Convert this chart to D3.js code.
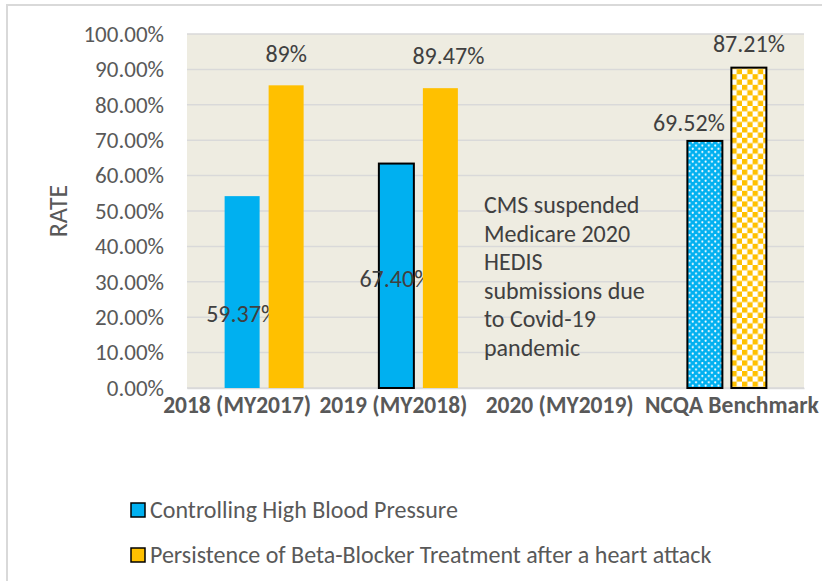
<!DOCTYPE html>
<html lang="en">
<head>
<meta charset="UTF-8">
<title>HEDIS rates</title>
<script src="https://cdn.jsdelivr.net/npm/d3@7/dist/d3.min.js"></script>
<style>
    body { margin: 0; background: #FFFFFF; }
    svg { display: block; font-family: Carlito, Calibri, Lato, sans-serif; }
    .tick-label { font-size: 23px; fill: #595959; }
    .axis-title { font-size: 26px; fill: #595959; }
    .cat-label { font-size: 23.5px; font-weight: 700; fill: #595959; }
    .data-label { font-size: 24px; fill: #404040; }
    .note { font-size: 24px; fill: #404040; }
    .legend-label { font-size: 24px; fill: #595959; }
</style>
</head>
<body>
<div id="chart"></div>
<script>
// Data
const categories = ["2018 (MY2017)", "2019 (MY2018)", "2020 (MY2019)", "NCQA Benchmark"];
const seriesNames = ["Controlling High Blood Pressure", "Persistence of Beta-Blocker Treatment after a heart attack"];
const bloodPressure = [54.2, 63.4, null, 69.8];
const betaBlocker = [85.5, 84.7, null, 90.5];
const bloodPressureLabels = ["59.37%", "67.40%", null, "69.52%"];
const betaBlockerLabels = ["89%", "89.47%", null, "87.21%"];
const yTicks = [0, 10, 20, 30, 40, 50, 60, 70, 80, 90, 100];
const noteLines = ["CMS suspended", "Medicare 2020", "HEDIS", "submissions due", "to Covid-19", "pandemic"];

// Where the hand-placed labels sit (value units) and their sideways shift
const bloodPressureLabelAt = [21.1, 31, null, 75];
const betaBlockerLabelAt = [94.5, 94, null, 97.4];
const bloodPressureLabelDx = [0, -1, null, -16];
const betaBlockerLabelDx = [0, 8, null, 0];
// category labels are nudged so the long ones do not collide
const categoryLabelDx = [-27, -25, -13, 5];
// which bars get a black outline, and which are patterned
const bloodPressureOutline = [false, true, false, true];
const betaBlockerOutline = [false, false, false, true];
const patterned = [false, false, false, true];

const width = 822, height = 581;
const plot = { left: 187, right: 804, top: 34, bottom: 388 };
const blue = "#00B0F0", orange = "#FFC000";

const svg = d3.select("#chart").append("svg")
    .attr("width", width)
    .attr("height", height);

const defs = svg.append("defs");
const dots = defs.append("pattern")
    .attr("id", "dots")
    .attr("patternUnits", "userSpaceOnUse")
    .attr("width", 6.4).attr("height", 6.4);
dots.append("rect").attr("width", 6.4).attr("height", 6.4).attr("fill", blue);
dots.append("circle").attr("cx", 1.6).attr("cy", 1.6).attr("r", 1.05).attr("fill", "#FFFFFF");
dots.append("circle").attr("cx", 4.8).attr("cy", 4.8).attr("r", 1.05).attr("fill", "#FFFFFF");

const checker = defs.append("pattern")
    .attr("id", "checker")
    .attr("patternUnits", "userSpaceOnUse")
    .attr("width", 10.6).attr("height", 10.6);
checker.append("rect").attr("width", 10.6).attr("height", 10.6).attr("fill", "#FFFFFF");
checker.append("rect").attr("width", 5.3).attr("height", 5.3).attr("fill", orange);
checker.append("rect").attr("x", 5.3).attr("y", 5.3).attr("width", 5.3).attr("height", 5.3).attr("fill", orange);

// outer chart border
svg.append("rect")
    .attr("x", 7).attr("y", 5)
    .attr("width", 840).attr("height", 620)
    .attr("fill", "none")
    .attr("stroke", "#D9D9D9")
    .attr("stroke-width", 2);

const x = d3.scaleBand()
    .domain(categories)
    .range([plot.left, plot.right]);

const y = d3.scaleLinear()
    .domain([0, 100])
    .range([plot.bottom, plot.top]);

const barWidth = 35, barGap = 9;

// plot background
svg.append("rect")
    .attr("x", plot.left).attr("y", plot.top)
    .attr("width", plot.right - plot.left)
    .attr("height", plot.bottom - plot.top)
    .attr("fill", "#EEECE1");

// gridlines
svg.append("g")
    .selectAll("line")
    .data(yTicks)
    .join("line")
    .attr("x1", plot.left).attr("x2", plot.right)
    .attr("y1", d => y(d)).attr("y2", d => y(d))
    .attr("stroke", "#D9D9D9")
    .attr("stroke-width", 1.5);

// y axis labels
const yAxis = svg.append("g")
    .attr("transform", `translate(${plot.left},0)`)
    .call(d3.axisLeft(y).tickValues(yTicks).tickSize(0).tickPadding(23)
        .tickFormat(d => d3.format(".2f")(d) + "%"))
    .attr("font-family", null).attr("font-size", null);
yAxis.select(".domain").remove();
yAxis.selectAll("text").attr("class", "tick-label").attr("fill", null);

// x axis labels
const xAxis = svg.append("g")
    .attr("transform", `translate(0,${plot.bottom})`)
    .call(d3.axisBottom(x).tickSize(0).tickPadding(8))
    .attr("font-family", null).attr("font-size", null);
xAxis.select(".domain").attr("stroke", "#D9D9D9").attr("stroke-width", 1.5);
xAxis.selectAll("text")
    .attr("class", "cat-label")
    .attr("fill", null)
    .attr("dx", (d, i) => categoryLabelDx[i]);

svg.append("text")
    .attr("class", "axis-title")
    .attr("transform", `translate(58,${(plot.top + plot.bottom) / 2}) rotate(-90)`)
    .attr("text-anchor", "middle")
    .attr("dy", "0.35em")
    .text("RATE");

// bars
const series = [
    { values: bloodPressure, labels: bloodPressureLabels, at: bloodPressureLabelAt, dx: bloodPressureLabelDx,
      outline: bloodPressureOutline, color: blue, pattern: "url(#dots)", offset: 0 },
    { values: betaBlocker, labels: betaBlockerLabels, at: betaBlockerLabelAt, dx: betaBlockerLabelDx,
      outline: betaBlockerOutline, color: orange, pattern: "url(#checker)", offset: 1 }
];

const pairStart = cat => x(cat) + (x.bandwidth() - (2 * barWidth + barGap)) / 2;

series.forEach(s => {
    const rows = categories.map((c, i) => ({ c, i, v: s.values[i] })).filter(d => d.v != null);
    const bx = d => pairStart(d.c) + s.offset * (barWidth + barGap);

    svg.append("g")
        .selectAll("rect")
        .data(rows)
        .join("rect")
        .attr("x", bx)
        .attr("y", d => y(d.v))
        .attr("width", barWidth)
        .attr("height", d => y(0) - y(d.v))
        .attr("fill", d => patterned[d.i] ? s.pattern : s.color)
        .attr("stroke", d => s.outline[d.i] ? "#000000" : "none")
        .attr("stroke-width", 2);

    svg.append("g")
        .selectAll("text")
        .data(rows)
        .join("text")
        .attr("class", "data-label")
        .attr("x", d => bx(d) + barWidth / 2 + s.dx[d.i])
        .attr("y", d => y(s.at[d.i]))
        .attr("dy", "0.35em")
        .attr("text-anchor", "middle")
        .text(d => s.labels[d.i]);
});

// note for the missing year
svg.append("text")
    .attr("class", "note")
    .attr("x", 484)
    .attr("y", 213)
    .selectAll("tspan")
    .data(noteLines)
    .join("tspan")
    .attr("x", 484)
    .attr("dy", (d, i) => i === 0 ? 0 : 28.6)
    .text(d => d);

// legend
const legend = svg.append("g")
    .selectAll("g")
    .data(seriesNames)
    .join("g")
    .attr("transform", (d, i) => `translate(131,${503 + i * 45})`);

legend.append("rect")
    .attr("width", 14).attr("height", 14)
    .attr("fill", (d, i) => i === 0 ? blue : orange)
    .attr("stroke", "#000000")
    .attr("stroke-width", 1.5);

legend.append("text")
    .attr("class", "legend-label")
    .attr("x", 19)
    .attr("y", 7)
    .attr("dy", "0.35em")
    .text(d => d);
</script>
</body>
</html>
